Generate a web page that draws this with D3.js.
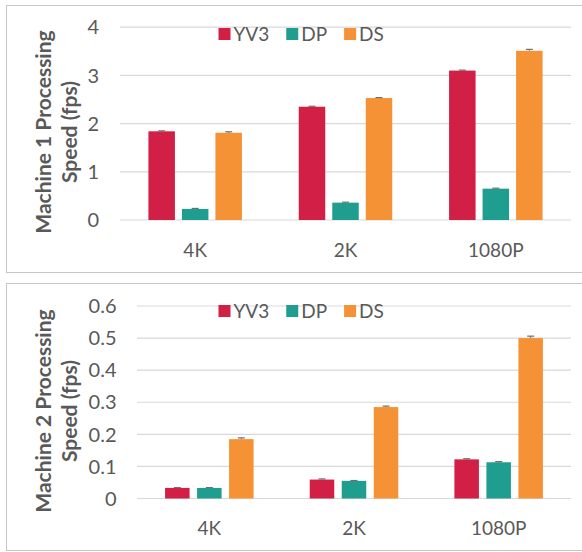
<!DOCTYPE html>
<html>
<head>
<meta charset="utf-8">
<script src="https://cdn.jsdelivr.net/npm/d3@7"></script>
<style>
  body { margin: 0; background: #fff; }
  svg { display: block; font-family: Lato, "Open Sans", sans-serif; }
  .grid line { stroke: #d9d9d9; stroke-width: 1.2; }
  .tick-label, .cat-label, .legend-label { fill: #595959; }
  .axis-title { fill: #595959; font-weight: bold; }
</style>
</head>
<body>
<script>
(function(){

    //chart data
    var categories = ["4K", "2K", "1080P"];
    var seriesNames = ["YV3", "DP", "DS"];
    var seriesColors = ["#d11f45", "#1f9e8f", "#f59235"];

    //machine 1 speeds (fps) and error bars
    var m1YV3 = [1.84, 2.35, 3.10];
    var m1DP  = [0.23, 0.36, 0.65];
    var m1DS  = [1.81, 2.53, 3.51];
    var m1Err = [[0.01, 0.01, 0.01], [0.01, 0.01, 0.01], [0.02, 0.01, 0.03]];
    var m1Ticks = [0, 1, 2, 3, 4];
    var m1TickLabels = ["0", "1", "2", "3", "4"];

    //machine 2 speeds (fps) and error bars
    var m2YV3 = [0.033, 0.059, 0.122];
    var m2DP  = [0.033, 0.055, 0.113];
    var m2DS  = [0.185, 0.285, 0.500];
    var m2Err = [[0.001, 0.002, 0.002], [0.001, 0.001, 0.002], [0.004, 0.003, 0.006]];
    var m2Ticks = [0, 0.1, 0.2, 0.3, 0.4, 0.5, 0.6];
    var m2TickLabels = ["0", "0.1", "0.2", "0.3", "0.4", "0.5", "0.6"];

    var width = 582, height = 552;

    var svg = d3.select("body")
        .append("svg")
        .attr("width", width)
        .attr("height", height);

    svg.append("rect")
        .attr("width", width)
        .attr("height", height)
        .attr("fill", "#fff");

    //panel layouts
    var panels = [
        {
            title: ["Machine 1 Processing", "Speed (fps)"],
            series: [m1YV3, m1DP, m1DS], err: m1Err,
            ticks: m1Ticks, tickLabels: m1TickLabels, max: 4,
            box: [6.5, 5.5, 267],
            x: [120, 571], y: [220, 27.2],
            outerPad: 0.378, innerPad: 0.209,
            legendY: 34, titleY: 132, catY: 256.5, tickX: 99
        },
        {
            title: ["Machine 2 Processing", "Speed (fps)"],
            series: [m2YV3, m2DP, m2DS], err: m2Err,
            ticks: m2Ticks, tickLabels: m2TickLabels, max: 0.6,
            box: [6.5, 283.5, 267],
            x: [137, 571], y: [498.5, 306],
            outerPad: 0.388, innerPad: 0.234,
            legendY: 311, titleY: 411, catY: 535, tickX: 116.5
        }
    ];

    panels.forEach(drawPanel);

    function drawPanel(p){
        var g = svg.append("g");

        //panel frame
        g.append("rect")
            .attr("x", p.box[0])
            .attr("y", p.box[1])
            .attr("width", 640)
            .attr("height", p.box[2])
            .attr("fill", "none")
            .attr("stroke", "#c6c6c6")
            .attr("stroke-width", 1);

        var xScale = d3.scaleBand()
            .domain(categories)
            .range(p.x)
            .paddingInner(p.outerPad)
            .paddingOuter(p.outerPad / 2);

        var xSub = d3.scaleBand()
            .domain(seriesNames)
            .range([0, xScale.bandwidth()])
            .paddingInner(p.innerPad);

        var yScale = d3.scaleLinear()
            .domain([0, p.max])
            .range(p.y);

        //gridlines
        g.append("g")
            .attr("class", "grid")
            .selectAll("line")
            .data(p.ticks)
            .enter()
            .append("line")
            .attr("x1", p.x[0])
            .attr("x2", p.x[1])
            .attr("y1", function(d){ return yScale(d); })
            .attr("y2", function(d){ return yScale(d); });

        //tick labels
        g.selectAll(".tick-label")
            .data(p.ticks)
            .enter()
            .append("text")
            .attr("class", "tick-label")
            .attr("x", p.tickX)
            .attr("y", function(d){ return yScale(d); })
            .attr("dy", "0.36em")
            .attr("text-anchor", "end")
            .style("font-size", "20px")
            .text(function(d, i){ return p.tickLabels[i]; });

        //category labels
        g.selectAll(".cat-label")
            .data(categories)
            .enter()
            .append("text")
            .attr("class", "cat-label")
            .attr("x", function(d){ return xScale(d) + xScale.bandwidth() / 2; })
            .attr("y", p.catY)
            .attr("text-anchor", "middle")
            .style("font-size", "19px")
            .text(function(d){ return d; });

        //bars and error bars
        seriesNames.forEach(function(name, s){
            var vals = p.series[s];
            var sg = g.append("g");

            sg.selectAll("rect")
                .data(vals)
                .enter()
                .append("rect")
                .attr("x", function(d, i){ return xScale(categories[i]) + xSub(name); })
                .attr("y", function(d){ return yScale(d); })
                .attr("width", xSub.bandwidth())
                .attr("height", function(d){ return yScale(0) - yScale(d); })
                .attr("fill", seriesColors[s]);

            var eb = sg.selectAll(".err")
                .data(vals)
                .enter()
                .append("g")
                .attr("class", "err");

            eb.append("line")
                .attr("x1", function(d, i){ return xScale(categories[i]) + xSub(name) + xSub.bandwidth() / 2; })
                .attr("x2", function(d, i){ return xScale(categories[i]) + xSub(name) + xSub.bandwidth() / 2; })
                .attr("y1", function(d){ return yScale(d); })
                .attr("y2", function(d, i){ return yScale(d + p.err[s][i]); })
                .attr("stroke", "#6e6e6e")
                .attr("stroke-width", 1);

            eb.append("line")
                .attr("x1", function(d, i){ return xScale(categories[i]) + xSub(name) + xSub.bandwidth() / 2 - 3.5; })
                .attr("x2", function(d, i){ return xScale(categories[i]) + xSub(name) + xSub.bandwidth() / 2 + 3.5; })
                .attr("y1", function(d, i){ return yScale(d + p.err[s][i]); })
                .attr("y2", function(d, i){ return yScale(d + p.err[s][i]); })
                .attr("stroke", "#6e6e6e")
                .attr("stroke-width", 1.2);
        });

        //legend
        var lx = 218.5;
        seriesNames.forEach(function(name, s){
            g.append("rect")
                .attr("x", lx)
                .attr("y", p.legendY - 6)
                .attr("width", 12)
                .attr("height", 12)
                .attr("fill", seriesColors[s]);
            var t = g.append("text")
                .attr("class", "legend-label")
                .attr("x", lx + 15)
                .attr("y", p.legendY)
                .attr("dy", "0.36em")
                .style("font-size", "19px")
                .text(name);
            lx = lx + 15 + t.node().getComputedTextLength() + 17;
        });

        //axis title (two lines, rotated)
        var title = g.append("text")
            .attr("class", "axis-title")
            .attr("transform", "translate(0," + p.titleY + ") rotate(-90)")
            .attr("text-anchor", "middle")
            .style("font-size", "21px");
        title.append("tspan")
            .attr("x", 0)
            .attr("y", 51)
            .text(p.title[0]);
        title.append("tspan")
            .attr("x", 0)
            .attr("y", 76.5)
            .text(p.title[1]);
    }

})();
</script>
</body>
</html>
